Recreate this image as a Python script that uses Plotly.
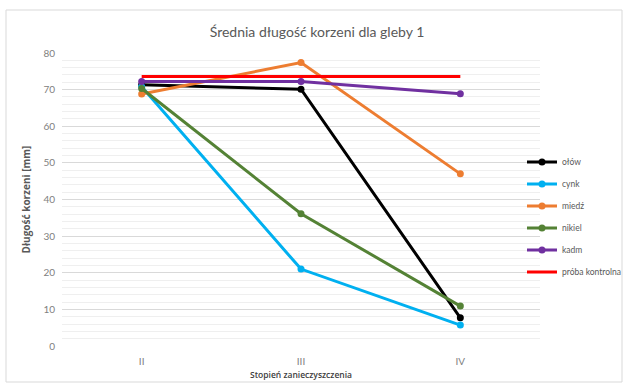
import plotly.graph_objects as go

# Pollution levels on the x axis
stopnie = ["II", "III", "IV"]

# Mean root length [mm] per metal
olow = [71.3, 70.1, 7.7]
cynk = [70.8, 21.0, 5.7]
miedz = [68.8, 77.4, 47.0]
nikiel = [70.3, 36.1, 10.9]
kadm = [72.2, 72.2, 68.9]
kontrola = [73.6, 73.6, 73.6]

series = [
    ("ołów", olow, "#000000", True),
    ("cynk", cynk, "#00b0f0", True),
    ("miedź", miedz, "#ed7d31", True),
    ("nikiel", nikiel, "#548235", True),
    ("kadm", kadm, "#7030a0", True),
    ("próba kontrolna", kontrola, "#ff0000", False),
]

fig = go.Figure()
for i, (name, vals, color, markers) in enumerate(series):
    fig.add_trace(go.Scatter(
        x=stopnie, y=vals, name=name,
        mode="lines+markers" if markers else "lines",
        line=dict(color=color, width=3),
        marker=dict(color=color, size=7),
        legendgroup=f"g{i}",
    ))

W, H = 623, 383
L, R, T, B = 62, 83, 53, 37
pw, ph = W - L - R, H - T - B

# light frame around the whole chart
fig.add_shape(type="rect", xref="paper", yref="paper",
              x0=(6 - L) / pw, x1=(622 - L) / pw,
              y0=(H - B - 382) / ph, y1=(H - B - 10) / ph,
              line=dict(color="#d9d9d9", width=1), layer="below")

FONT = "Lato, Open Sans, sans-serif"
tick_font = dict(family=FONT, size=10, color="#808080")

fig.update_layout(
    width=W, height=H,
    margin=dict(l=L, r=R, t=T, b=B, autoexpand=False),
    paper_bgcolor="white", plot_bgcolor="white",
    title=dict(text="Średnia długość korzeni dla gleby 1", x=317 / W, xref="container",
               y=1 - 32 / H, yref="container", xanchor="center", yanchor="middle",
               font=dict(family=FONT, size=14, color="#595959")),
    xaxis=dict(type="category", range=[-0.5, 2.5], showgrid=False, zeroline=False, showline=False,
               ticks="", tickfont=tick_font, ticklabelstandoff=8, automargin=False,
               title=dict(text="Stopień zanieczyszczenia", standoff=6,
                          font=dict(family="Open Sans, sans-serif", size=8.5, color="#404040",
                                    weight=600))),
    yaxis=dict(range=[0, 80], dtick=10, showgrid=True, gridcolor="#d9d9d9", gridwidth=1,
               zeroline=False, showline=False, ticks="", tickfont=tick_font, automargin=False,
               ticklabelstandoff=6,
               minor=dict(dtick=2, showgrid=True, gridcolor="#efefef", gridwidth=1),
               title=dict(text="<b>Długość korzeni [mm]</b>", standoff=10,
                          font=dict(family="Open Sans, sans-serif", size=10, color="#595959"))),
    legend=dict(x=522 / W, xref="container", xanchor="left", y=1 - 217 / H, yref="container",
                yanchor="middle",
                font=dict(family=FONT, size=8.5, color="#595959"),
                itemwidth=30, tracegroupgap=3, traceorder="grouped",
                bgcolor="rgba(0,0,0,0)"),
    showlegend=True,
)

fig.write_html("out.html")
